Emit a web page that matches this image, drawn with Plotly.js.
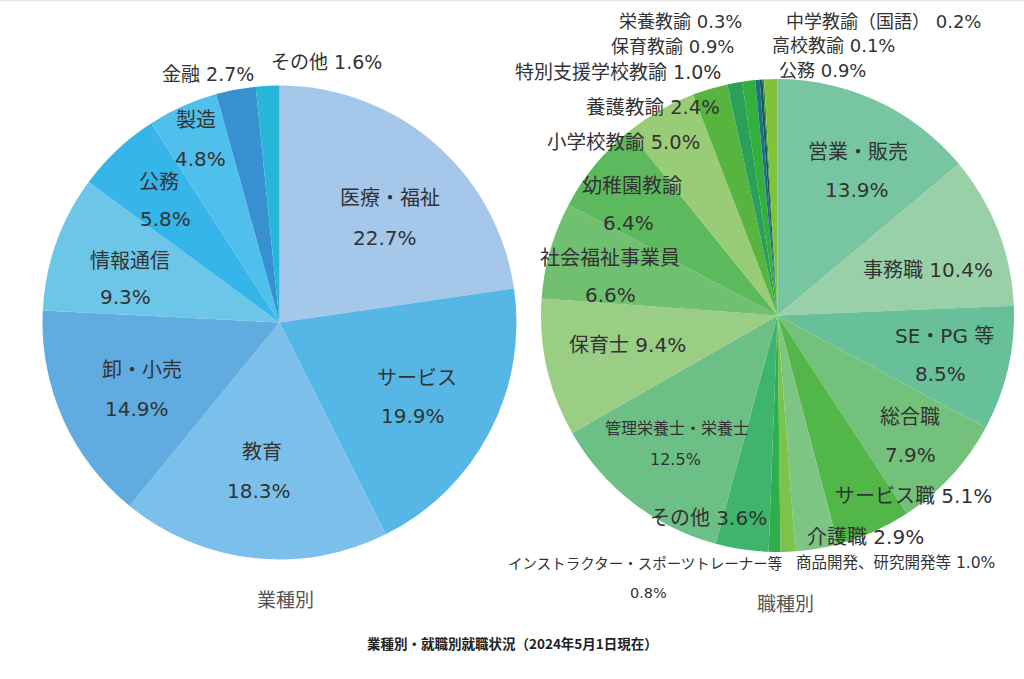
<!DOCTYPE html>
<html>
<head>
<meta charset="utf-8">
<script src="https://cdn.plot.ly/plotly-3.0.1.min.js"></script>
<style>html,body{margin:0;padding:0;background:#fff;}#chart{width:1024px;height:679px;}</style>
</head>
<body>
<div id="chart"></div>
<script>
// ---- data ----
const industryLabels = ["医療・福祉","サービス","教育","卸・小売","情報通信","公務","製造","金融","その他"];
const industryValues = [22.7,19.9,18.3,14.9,9.3,5.8,4.8,2.7,1.6];
const industryColors = ["#A4C7EA","#56B7E7","#7BC0EB","#60ABDF","#6CC6E8","#35B5E9","#4FC0EB","#3791D1","#28B6DA"];

const jobLabels = ["営業・販売","事務職","SE・PG 等","総合職","サービス職","介護職","商品開発、研究開発等","インストラクター・スポーツトレーナー等","その他","管理栄養士・栄養士","保育士","社会福祉事業員","幼稚園教諭","小学校教諭","養護教諭","特別支援学校教諭","保育教諭","栄養教諭","中学教諭（国語）","高校教諭","公務"];
const jobValues = [13.9,10.4,8.5,7.9,5.1,2.9,1.0,0.8,3.6,12.5,9.4,6.6,6.4,5.0,2.4,1.0,0.9,0.3,0.2,0.1,0.9];
const jobColors = ["#77C5A1","#99D0A8","#67C097","#74C17B","#53B649","#7DC582","#7CC34B","#2FAF4B","#3EB46C","#6CBF85","#9ACE85","#71C071","#5DB95D","#98CC77","#56B43F","#2AA05B","#33AF3B","#1E6E8E","#1E5B4C","#2A9448","#80C33B"];

const leftTitle = "業種別";
const rightTitle = "職種別";
const mainTitle = "業種別・就職別就職状況（2024年5月1日現在）";

// ---- label placement (pixel positions) ----
// [index, mode, x, y, x2, y2, size]
// mode 'two': name at (x,y), pct at (x2,y2); 'one': "name pct%" at (x,y)
const leftPlace = [
  [0,'two',390,198,385,238,20],
  [1,'two',417,378,413,416,20],
  [2,'two',262,452,259,491,20],
  [3,'two',142,370,137,409,20],
  [4,'two',130,261,125,297,20],
  [5,'two',159,182,165,219,20],
  [6,'two',196,120,200,159,20],
  [7,'one',208,74,0,0,19],
  [8,'one',326,62,0,0,19]
];
const rightPlace = [
  [0,'two',858,152,857,190,20],
  [1,'one',928,270,0,0,20],
  [2,'two',944,336,940,374,20],
  [3,'two',910,417,910,455,20],
  [4,'one',913,496,0,0,20],
  [5,'one',865,537,0,0,20],
  [6,'one',895,563,0,0,15.5],
  [7,'two',645,563,648,593,14.5],
  [8,'one',708,518,0,0,20],
  [9,'two',677,428,675,459,16],
  [10,'one',627,345,0,0,20],
  [11,'two',610,258,610,295,20],
  [12,'two',632,186,628,223,20],
  [13,'one',623,142,0,0,19.5],
  [14,'one',653,107,0,0,19.5],
  [15,'one',618,72,0,0,19],
  [16,'one',672,47,0,0,18],
  [17,'one',680,21,0,0,18],
  [18,'one',883,21,0,0,18],
  [19,'one',833,46,0,0,18],
  [20,'one',822,71,0,0,18]
];

const W = 1024, H = 679;
const FONT = "DejaVu Sans, Noto Sans CJK JP, sans-serif";
const annotations = [];
function ann(text, px, py, size, color, bold, family) {
  annotations.push({
    text: bold ? "<b>" + text + "</b>" : text,
    x: px / W, y: 1 - py / H, xref: "paper", yref: "paper",
    xanchor: "center", yanchor: "middle", showarrow: false,
    font: {family: family || FONT, size: size, color: color || "#333333"}
  });
}
function place(list, labels, values) {
  list.forEach(p => {
    const [i, mode, x, y, x2, y2, s] = p;
    const pct = values[i].toFixed(1) + "%";
    if (mode === 'two') {
      ann(labels[i], x, y, s);
      ann(pct, x2, y2, s);
    } else {
      ann(labels[i] + " " + pct, x, y, s);
    }
  });
}
place(leftPlace, industryLabels, industryValues);
place(rightPlace, jobLabels, jobValues);
ann(leftTitle, 285, 598, 19, "#555555", false, "Noto Sans CJK JP");
ann(rightTitle, 785, 602, 19, "#555555", false, "Noto Sans CJK JP");
ann(mainTitle, 512, 643, 13.5, "#222222", true, "Noto Sans CJK JP");

function dom(cx, cy, r) {
  return {x: [(cx - r) / W, (cx + r) / W], y: [1 - (cy + r) / H, 1 - (cy - r) / H]};
}

const traces = [
  {
    type: "pie", labels: industryLabels, values: industryValues,
    marker: {colors: industryColors, line: {width: 0}},
    sort: false, direction: "clockwise", rotation: 0,
    textinfo: "none", hoverinfo: "none", showlegend: false,
    domain: dom(279.5, 322.5, 237)
  },
  {
    type: "pie", labels: jobLabels, values: jobValues,
    marker: {colors: jobColors, line: {width: 0}},
    sort: false, direction: "clockwise", rotation: 0,
    textinfo: "none", hoverinfo: "none", showlegend: false,
    domain: dom(777.5, 315.5, 236.5)
  }
];

const layout = {
  width: W, height: H,
  margin: {l: 0, r: 0, t: 0, b: 0},
  paper_bgcolor: "#ffffff",
  showlegend: false,
  annotations: annotations,
  shapes: [
    {type: "line", xref: "paper", yref: "paper", x0: 0, x1: 1, y0: 0.999, y1: 0.999, line: {color: "#e6e6e6", width: 1.5}}
  ]
};

Plotly.newPlot("chart", traces, layout, {staticPlot: true, displayModeBar: false});
</script>
</body>
</html>
